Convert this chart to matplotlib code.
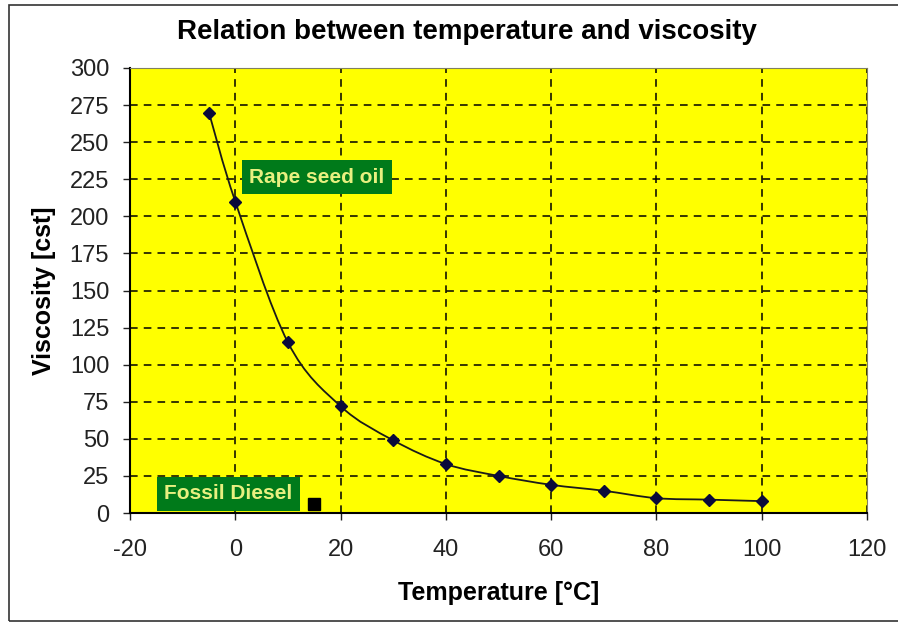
import numpy as np
import matplotlib.pyplot as plt
from matplotlib.path import Path
from matplotlib.patches import PathPatch, Rectangle

plt.rcParams['font.family'] = ['Liberation Sans', 'DejaVu Sans']
plt.rcParams['axes.unicode_minus'] = False

# data
temperature = [-5, 0, 10, 20, 30, 40, 50, 60, 70, 80, 90, 100]
viscosity = [270, 210, 115, 72, 49, 33, 25, 19, 15, 10, 9, 8]
diesel_temp = [15]
diesel_visc = [6]

xticks = [-20, 0, 20, 40, 60, 80, 100, 120]
yticks = [0, 25, 50, 75, 100, 125, 150, 175, 200, 225, 250, 275, 300]


def smooth_path(x, y, k=1/6):
    # Excel-like smoothed line: cubic bezier through the points (Catmull-Rom)
    x = np.asarray(x, float)
    y = np.asarray(y, float)
    verts = [(x[0], y[0])]
    codes = [Path.MOVETO]
    n = len(x)
    for i in range(n - 1):
        p0 = i - 1 if i > 0 else i
        p3 = i + 2 if i + 2 < n else i + 1
        c1 = (x[i] + (x[i + 1] - x[p0]) * k, y[i] + (y[i + 1] - y[p0]) * k)
        c2 = (x[i + 1] - (x[p3] - x[i]) * k, y[i + 1] - (y[p3] - y[i]) * k)
        verts += [c1, c2, (x[i + 1], y[i + 1])]
        codes += [Path.CURVE4] * 3
    return Path(verts, codes)


fig = plt.figure(figsize=(8.98, 6.25), dpi=100)
ax = fig.add_axes([130/898, 1 - 513/625, (867-130)/898, (513-68)/625])
ax.set_facecolor('#ffff00')

ax.add_patch(PathPatch(smooth_path(temperature, viscosity), fill=False,
                       edgecolor='#1a1a1a', lw=1.3, zorder=3))
ax.plot(temperature, viscosity, ls='none', marker='D', ms=6,
        color='#0a0a3a', zorder=4)
ax.plot(diesel_temp, diesel_visc, ls='none', marker='s', ms=8,
        color='black', zorder=4)

ax.set_xlim(-20, 120)
ax.set_ylim(0, 300)
ax.set_xticks(xticks)
ax.set_yticks(yticks)
ax.tick_params(labelsize=17, length=5, direction='out', width=1, colors='#222222')
ax.tick_params(axis='x', pad=14)
ax.tick_params(axis='y', pad=10)
ax.grid(True, color='black', ls=(0, (5, 4)), lw=1.1)
ax.set_axisbelow(True)

for s in ['top', 'right']:
    ax.spines[s].set_color('#808060')
for s in ['left', 'bottom']:
    ax.spines[s].set_color('black')
    ax.spines[s].set_linewidth(1.5)

ax.set_xlabel('Temperature [°C]', fontsize=18, fontweight='bold', labelpad=14)
ax.set_ylabel('Viscosity [cst]', fontsize=18, fontweight='bold', labelpad=10)
fig.text(0.52, 0.949, 'Relation between temperature and viscosity',
         ha='center', va='center', fontsize=20, fontweight='bold')

box = dict(boxstyle='square,pad=0.35', fc='#007a1a', ec='none')
ax.text(15.5, 226.5, 'Rape seed oil', ha='center', va='center', fontsize=15,
        fontweight='bold', color='#e8f080', bbox=box, zorder=5)
ax.text(-1.3, 13.0, 'Fossil Diesel', ha='center', va='center', fontsize=15,
        fontweight='bold', color='#e8f080', bbox=box, zorder=5)

# outer chart frame
fig.add_artist(Rectangle((9/898, 1 - 621/625), 1.0, (621-5)/625,
                         transform=fig.transFigure, fill=False,
                         ec='#333333', lw=1.2))

fig.savefig('out.png', dpi=100)
